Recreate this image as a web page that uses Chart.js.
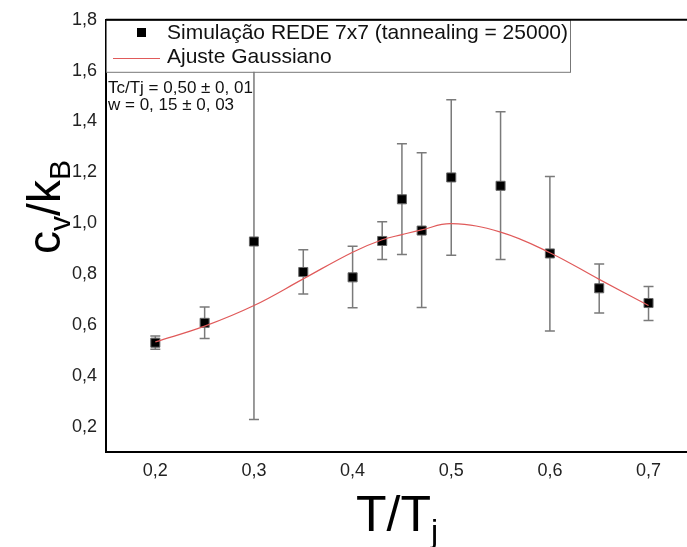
<!DOCTYPE html>
<html>
<head>
<meta charset="utf-8">
<script src="https://cdn.jsdelivr.net/npm/chart.js@4/dist/chart.umd.min.js"></script>
<style>
  body { margin: 0; background: #fff; }
  canvas { display: block; }
</style>
</head>
<body>
<canvas id="cv" width="687" height="547"></canvas>
<script>
// simulated points, 7x7 lattice
const simX = [0.2, 0.25, 0.3, 0.35, 0.4, 0.43, 0.45, 0.47, 0.5, 0.55, 0.6, 0.65, 0.7];
const simY = [0.530, 0.608, 0.928, 0.808, 0.787, 0.930, 1.094, 0.971, 1.180, 1.147, 0.881, 0.744, 0.686];
const errLow = [0.504, 0.546, 0.228, 0.721, 0.667, 0.857, 0.877, 0.668, 0.874, 0.857, 0.576, 0.647, 0.617];
const errHigh = [0.556, 0.670, 1.628, 0.896, 0.909, 1.006, 1.312, 1.277, 1.486, 1.438, 1.184, 0.839, 0.751];

// gaussian fit curve
const fitX = [0.2, 0.25, 0.3, 0.35, 0.4, 0.43, 0.45, 0.47, 0.5, 0.55, 0.6, 0.65, 0.7];
const fitY = [0.533, 0.595, 0.676, 0.781, 0.886, 0.935, 0.955, 0.974, 0.998, 0.965, 0.884, 0.779, 0.676];

const xTicks = [0.2, 0.3, 0.4, 0.5, 0.6, 0.7];
const yTicks = [0.2, 0.4, 0.6, 0.8, 1.0, 1.2, 1.4, 1.6, 1.8];

const FONT = "'Liberation Sans', Arial, sans-serif";
const comma = v => v.toFixed(1).replace('.', ',');

const errorBars = {
    id: 'errorBars',
    beforeDatasetsDraw(chart) {
        const ctx = chart.ctx, xs = chart.scales.x, ys = chart.scales.y;
        ctx.save();
        ctx.strokeStyle = '#7a7a7a';
        ctx.lineWidth = 1.5;
        simX.forEach((x, i) => {
            const px = xs.getPixelForValue(x);
            const y1 = ys.getPixelForValue(errLow[i]);
            const y2 = ys.getPixelForValue(errHigh[i]);
            ctx.beginPath();
            ctx.moveTo(px, y1); ctx.lineTo(px, y2);
            ctx.moveTo(px - 5, y1); ctx.lineTo(px + 5, y1);
            ctx.moveTo(px - 5, y2); ctx.lineTo(px + 5, y2);
            ctx.stroke();
        });
        ctx.restore();
    }
};

function subText(ctx, parts, x, y, big, small) {
    // parts: [text, isSub]
    let w = 0;
    parts.forEach(p => {
        ctx.font = (p[1] ? small : big) + 'px ' + FONT;
        w += ctx.measureText(p[0]).width;
    });
    let cx = x - w / 2;
    parts.forEach(p => {
        ctx.font = (p[1] ? small : big) + 'px ' + FONT;
        ctx.fillText(p[0], cx, p[1] ? y + big * 0.22 : y);
        cx += ctx.measureText(p[0]).width;
    });
}

const decorations = {
    id: 'decorations',
    afterDraw(chart) {
        const ctx = chart.ctx, a = chart.chartArea;
        ctx.save();
        // legend box
        ctx.fillStyle = '#fff';
        ctx.fillRect(a.left, a.top, 464, 52);
        ctx.strokeStyle = '#777';
        ctx.lineWidth = 1;
        ctx.strokeRect(a.left + 0.5, a.top + 0.5, 464, 52);
        ctx.fillStyle = '#000';
        ctx.fillRect(137, 28, 9, 9);
        ctx.strokeStyle = '#e05a5a';
        ctx.beginPath(); ctx.moveTo(113, 58.5); ctx.lineTo(160, 58.5); ctx.stroke();
        ctx.fillStyle = '#111';
        ctx.font = '21px ' + FONT;
        ctx.textBaseline = 'middle';
        ctx.fillText('Simulação REDE 7x7 (tannealing = 25000)', 167, 33);
        ctx.fillText('Ajuste Gaussiano', 167, 57);
        ctx.font = '17px ' + FONT;
        ctx.fillText('Tc/Tj = 0,50 ± 0, 01', 108, 88);
        ctx.fillText('w = 0, 15 ± 0, 03', 108, 105);
        // top frame line
        ctx.strokeStyle = '#000';
        ctx.lineWidth = 2;
        ctx.beginPath(); ctx.moveTo(a.left, a.top); ctx.lineTo(a.right, a.top); ctx.stroke();
        // axis titles
        ctx.fillStyle = '#000';
        ctx.textBaseline = 'alphabetic';
        subText(ctx, [['T/T', false], ['j', true]], 397, 531, 50, 32);
        ctx.translate(60, 207);
        ctx.rotate(-Math.PI / 2);
        subText(ctx, [['c', false], ['v', true], ['/k', false], ['B', true]], 0, 0, 46, 30);
        ctx.restore();
    }
};

new Chart(document.getElementById('cv'), {
    type: 'scatter',
    data: {
        datasets: [{
            type: 'line',
            data: fitX.map((x, i) => ({ x: x, y: fitY[i] })),
            borderColor: '#e05a5a',
            borderWidth: 1.2,
            pointRadius: 0,
            tension: 0.4,
            fill: false
        }, {
            data: simX.map((x, i) => ({ x: x, y: simY[i] })),
            pointStyle: 'rect',
            pointRadius: 6.4,
            backgroundColor: '#000',
            borderColor: '#666',
            borderWidth: 1
        }]
    },
    options: {
        responsive: false,
        animation: false,
        layout: { autoPadding: false, padding: { top: 17, left: 0, right: 0, bottom: 0 } },
        plugins: { legend: { display: false }, tooltip: { enabled: false } },
        scales: {
            x: {
                type: 'linear', min: 0.15, max: 0.739,
                grid: { display: false, drawTicks: false },
                border: { display: true, color: '#000', width: 2 },
                afterBuildTicks: s => { s.ticks = xTicks.map(v => ({ value: v })); },
                afterFit: s => { s.height = 95; },
                ticks: { padding: 8, color: '#222', font: { family: FONT, size: 18 }, callback: v => comma(v) }
            },
            y: {
                type: 'linear', min: 0.1, max: 1.8,
                grid: { display: false, drawTicks: false },
                border: { display: true, color: '#000', width: 2 },
                afterBuildTicks: s => { s.ticks = yTicks.map(v => ({ value: v })); },
                afterFit: s => { s.width = 106; },
                ticks: { padding: 9, color: '#222', font: { family: FONT, size: 18 }, callback: v => comma(v) }
            }
        }
    },
    plugins: [errorBars, decorations]
});
</script>
</body>
</html>
